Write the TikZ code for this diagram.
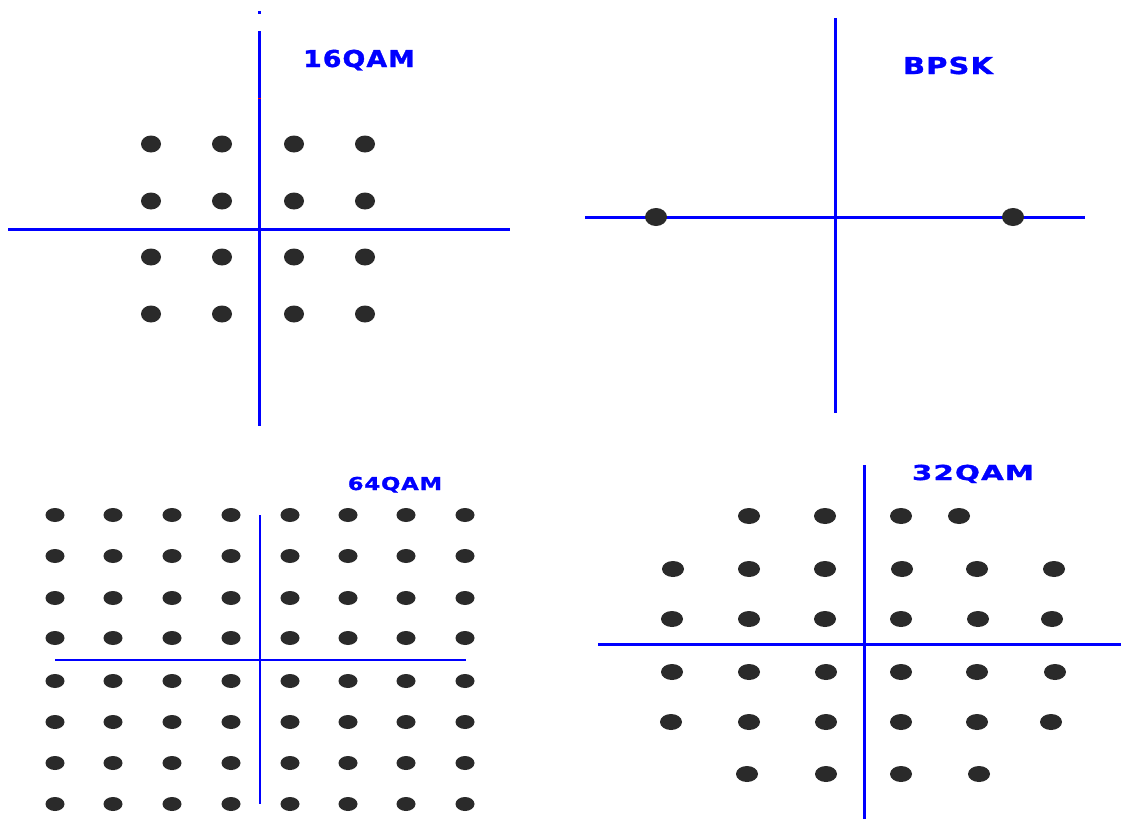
\documentclass[tikz,border=0pt]{standalone}
\usepackage{fontspec}
\newfontfamily\lblfont[LetterSpace=4,FakeBold=1.2]{DejaVu Sans}
\definecolor{dotgray}{HTML}{2A2A2A}
\definecolor{axisblue}{RGB}{0,0,255}
\begin{document}
\begin{tikzpicture}[x=1pt,y=-1pt,
  axis/.style={draw=axisblue,line width=3pt},
  thinaxis/.style={draw=axisblue,line width=2pt},
  dot/.style={fill=dotgray},
  lbl/.style={text=axisblue,inner sep=0pt,anchor=base}]
\useasboundingbox (0,0) rectangle (1121,819);
\fill[white] (0,0) rectangle (1121,819);
% ---------- 16QAM ----------
\draw[axis] (259,31) -- (259,426);
\fill[axisblue] (257.5,11) rectangle (260.5,14);
\fill[red] (257.5,97.5) rectangle (260.5,99);
\draw[axis] (8,229) -- (510,229);
\foreach \x in {151,222,294,365}
  \foreach \y in {144,201,257,314}
    \fill[dot] (\x,\y) ellipse [x radius=10,y radius=8.5];
\node[lbl,font=\fontsize{23.3}{23.3}\selectfont\lblfont\bfseries,xscale=1.15] (t16) at (359,67) {16QAM};
% ---------- BPSK ----------
\draw[axis] (835,18) -- (835,413);
\draw[axis] (585,217) -- (1085,217);
\fill[dot] (656,217) ellipse [x radius=11,y radius=9];
\fill[dot] (1013,217) ellipse [x radius=11,y radius=9];
\node[lbl,font=\fontsize{23.3}{23.3}\selectfont\lblfont\bfseries,xscale=1.24] (tb) at (948,74) {BPSK};
% ---------- 64QAM ----------
\draw[thinaxis] (260,515) -- (260,804);
\draw[thinaxis] (55,660) -- (466,660);
\foreach \x in {55,113,172,231,290,348,406,465}
  \foreach \y in {515,556,598,638,681,722,763,804}
    \fill[dot] (\x,\y) ellipse [x radius=9.5,y radius=7];
\node[lbl,font=\fontsize{17.8}{17.8}\selectfont\lblfont\bfseries,xscale=1.27] (t64) at (395,490) {64QAM};
% ---------- 32QAM ----------
\draw[axis] (864,465) -- (864,819);
\draw[axis] (598,644) -- (1121,644);
\foreach \p in {(749,516),(825,516),(901,516),(959,516),
  (673,569),(749,569),(825,569),(902,569),(977,569),(1054,569),
  (672,619),(749,619),(825,619),(901,619),(978,619),(1052,619),
  (672,672),(749,672),(826,672),(901,672),(977,672),(1055,672),
  (671,722),(749,722),(826,722),(901,722),(977,722),(1051,722),
  (747,774),(826,774),(901,774),(979,774)}
  \fill[dot] \p ellipse [x radius=11,y radius=8];
\node[lbl,font=\fontsize{20.6}{20.6}\selectfont\lblfont\bfseries,xscale=1.42] (t32) at (973,480) {32QAM};
\end{tikzpicture}
\end{document}
